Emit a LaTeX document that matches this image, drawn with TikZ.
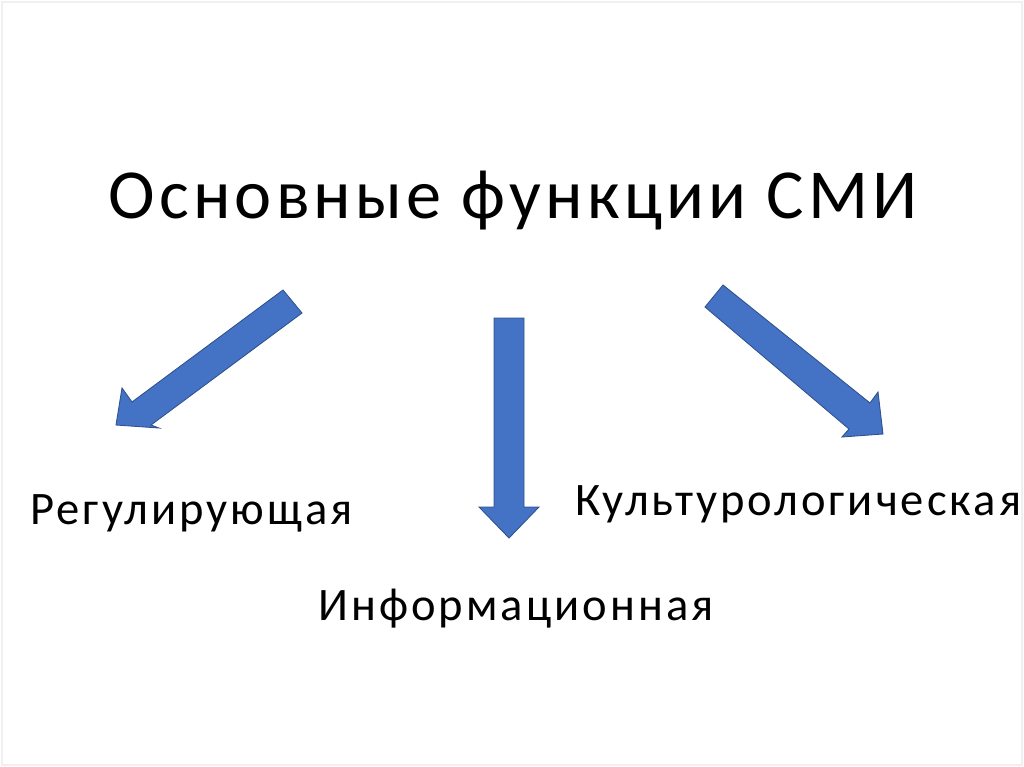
\documentclass[tikz,border=0pt]{standalone}
\usepackage{fontspec}
\setmainfont{Carlito}
\newfontfamily\titlefont[LetterSpace=6]{Carlito}
\newfontfamily\labelfont[LetterSpace=6.5]{Carlito}
\usetikzlibrary{positioning}
\definecolor{smiBlue}{RGB}{68, 114, 196}
\definecolor{smiEdge}{RGB}{47, 82, 143}

\begin{document}
\begin{tikzpicture}[x=0.02cm, y=-0.02cm,
      blockarrow/.style={fill=smiBlue, draw=smiEdge, line width=0.5pt, line join=miter},
      heading/.style={anchor=base west, inner sep=0pt, font=\titlefont\fontsize{40}{48}\selectfont},
      func/.style={anchor=base west, inner sep=0pt, font=\labelfont\fontsize{26.5}{30}\selectfont}
    ]
      \useasboundingbox (0,0) rectangle (1024,767);
      \draw[black!6, line width=0.6pt] (2,2) rectangle (1022,765);
      % title
      \node[heading] (title) at (108,218) {Основные функции СМИ};
      % block arrows
      \filldraw[blockarrow] (283,290) -- (302,313) -- (151,425) -- (159,428) -- (116,425)
        -- (122,388) -- (132,402) -- cycle;
      \filldraw[blockarrow] (494,318) -- (524,318) -- (524,507) -- (539,507) -- (509,538)
        -- (479,507) -- (494,507) -- cycle;
      \filldraw[blockarrow] (723,285) -- (870,403) -- (878,392) -- (883,434) -- (842,437)
        -- (849,429) -- (705,307) -- cycle;
      % functions
      \node[func] (reg) at (30,524) {Регулирующая};
      \node[func] (inf) at (318,620) {Информационная};
      \node[func] (cult) at (575,515) {Культурологическая};
    \end{tikzpicture}
\end{document}
